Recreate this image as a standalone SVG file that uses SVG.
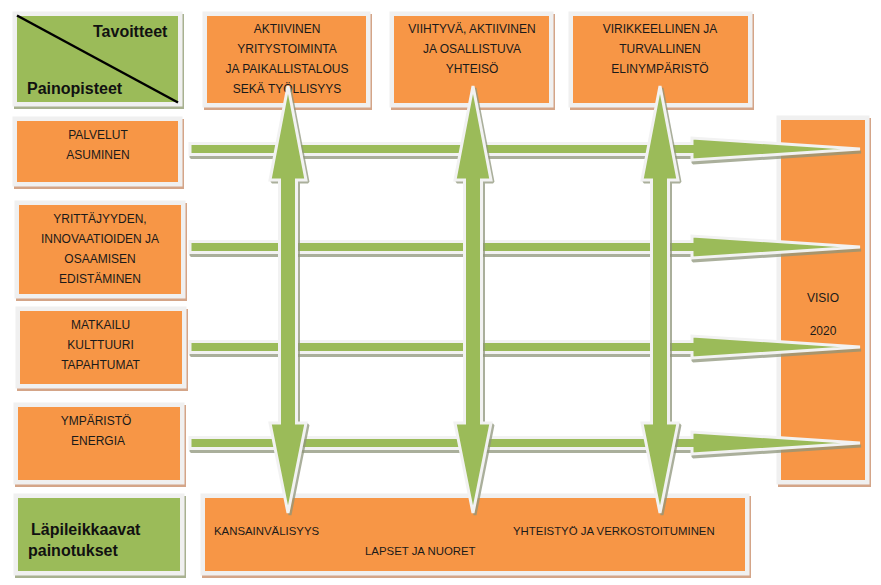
<svg xmlns="http://www.w3.org/2000/svg" width="881" height="585" viewBox="0 0 881 585">
<style>
.sho{fill:#d4a588}
.shg{fill:#a8b190}
.bd{fill:#f0f0f0}
.or{fill:#f79646}
.gr{fill:#9bbb59}
.t{font-family:"Liberation Sans",Arial,sans-serif;font-size:12px;fill:#1a1a1a;text-anchor:middle}
.s{font-family:"Liberation Sans",Arial,sans-serif;font-size:11.4px;fill:#1a1a1a}
.b{font-family:"Liberation Sans",Arial,sans-serif;font-size:16px;font-weight:bold;fill:#111}
.ash{fill:#8e957a;stroke:#8e957a;stroke-width:3;opacity:0.75;stroke-linejoin:bevel}
.arr{fill:#9bbb59;stroke:#f2f2f2;stroke-width:3;stroke-linejoin:miter;stroke-miterlimit:4}
</style>
<defs>
<path id="harr" d="M0,-5.5 L502,-5.5 L502,-11 L670,0 L502,11 L502,5.5 L0,5.5 Z"/>
<path id="varr" d="M0,0 L18,94 L8.5,94 L8.5,337 L18,337 L0,427 L-18,337 L-8.5,337 L-8.5,94 L-18,94 Z"/>
</defs>
<rect width="881" height="585" fill="#ffffff"/>

<g id="corner">
<rect class="shg" x="14" y="14" width="170" height="95"/>
<rect class="bd" x="12.5" y="11.5" width="170" height="95"/>
<rect class="gr" x="17" y="16" width="161" height="86"/>
<line x1="17" y1="15.5" x2="178" y2="102.5" stroke="#000" stroke-width="2.5"/>
<text class="b" x="93" y="37">Tavoitteet</text>
<text class="b" x="27" y="94">Painopisteet</text>
</g>

<g id="goal1">
<rect class="sho" x="204" y="14" width="168" height="96"/>
<rect class="bd" x="202.5" y="11.5" width="168" height="96"/>
<rect class="or" x="207" y="16" width="159" height="87"/>
<text class="t" x="287" y="33">AKTIIVINEN</text>
<text class="t" x="287" y="53">YRITYSTOIMINTA</text>
<text class="t" x="287" y="73">JA PAIKALLISTALOUS</text>
<text class="t" x="287" y="93">SEKÄ TYÖLLISYYS</text>
</g>

<g id="goal2">
<rect class="sho" x="391" y="14" width="164" height="96"/>
<rect class="bd" x="389.5" y="11.5" width="164" height="96"/>
<rect class="or" x="394" y="16" width="155" height="87"/>
<text class="t" x="472" y="33">VIIHTYVÄ, AKTIIVINEN</text>
<text class="t" x="472" y="53">JA OSALLISTUVA</text>
<text class="t" x="472" y="73">YHTEISÖ</text>
</g>

<g id="goal3">
<rect class="sho" x="570" y="14" width="184" height="96"/>
<rect class="bd" x="568.5" y="11.5" width="184" height="96"/>
<rect class="or" x="573" y="16" width="175" height="87"/>
<text class="t" x="660" y="33">VIRIKKEELLINEN JA</text>
<text class="t" x="660" y="53">TURVALLINEN</text>
<text class="t" x="660" y="73">ELINYMPÄRISTÖ</text>
</g>

<g id="focus1">
<rect class="sho" x="14" y="119" width="170" height="70"/>
<rect class="bd" x="12.5" y="116.5" width="170" height="70"/>
<rect class="or" x="17" y="121" width="161" height="61"/>
<text class="t" x="98" y="139">PALVELUT</text>
<text class="t" x="98" y="159">ASUMINEN</text>
</g>

<g id="focus2">
<rect class="sho" x="16" y="203" width="171" height="98"/>
<rect class="bd" x="14.5" y="200.5" width="171" height="98"/>
<rect class="or" x="19" y="205" width="162" height="89"/>
<text class="t" x="100" y="223">YRITTÄJYYDEN,</text>
<text class="t" x="100" y="243">INNOVAATIOIDEN JA</text>
<text class="t" x="100" y="263">OSAAMISEN</text>
<text class="t" x="100" y="283">EDISTÄMINEN</text>
</g>

<g id="focus3">
<rect class="sho" x="17" y="309" width="171" height="82"/>
<rect class="bd" x="15.5" y="306.5" width="171" height="82"/>
<rect class="or" x="20" y="311" width="162" height="73"/>
<text class="t" x="100.5" y="329">MATKAILU</text>
<text class="t" x="100.5" y="349">KULTTUURI</text>
<text class="t" x="100.5" y="369">TAPAHTUMAT</text>
</g>

<g id="focus4">
<rect class="sho" x="15" y="405" width="171" height="82"/>
<rect class="bd" x="13.5" y="402.5" width="171" height="82"/>
<rect class="or" x="18" y="407" width="162" height="73"/>
<text class="t" x="96" y="425">YMPÄRISTÖ</text>
<text class="t" x="98" y="445">ENERGIA</text>
</g>

<g id="crosscut-label">
<rect class="shg" x="15" y="496" width="171" height="82"/>
<rect class="bd" x="13.5" y="493.5" width="171" height="82"/>
<rect class="gr" x="18" y="498" width="162" height="73"/>
<text class="b" x="31" y="535">Läpileikkaavat</text>
<text class="b" x="28" y="556">painotukset</text>
</g>

<g id="crosscut">
<rect class="sho" x="202" y="496" width="549" height="82"/>
<rect class="bd" x="200.5" y="493.5" width="549" height="82"/>
<rect class="or" x="205" y="498" width="540" height="73"/>
<text class="s" x="214" y="535">KANSAINVÄLISYYS</text>
<text class="s" x="513" y="535">YHTEISTYÖ JA VERKOSTOITUMINEN</text>
<text class="s" x="365" y="555">LAPSET JA NUORET</text>
</g>

<g id="visio">
<rect class="sho" x="778" y="118" width="93" height="369"/>
<rect class="bd" x="776.5" y="115.5" width="93" height="369"/>
<rect class="or" x="781" y="120" width="84" height="360"/>
<text class="t" x="823" y="302">VISIO</text>
<text class="t" x="823" y="335">2020</text>
</g>

<g id="connectors">
<g id="h-arrows">
<use href="#harr" class="ash" transform="translate(191,152)"/>
<use href="#harr" class="arr" transform="translate(190,149)"/>
<use href="#harr" class="ash" transform="translate(191,250)"/>
<use href="#harr" class="arr" transform="translate(190,247)"/>
<use href="#harr" class="ash" transform="translate(191,350)"/>
<use href="#harr" class="arr" transform="translate(190,347)"/>
<use href="#harr" class="ash" transform="translate(191,446)"/>
<use href="#harr" class="arr" transform="translate(190,443)"/>
</g>
<g id="v-arrows">
<use href="#varr" class="ash" transform="translate(290,88)"/>
<use href="#varr" class="arr" transform="translate(288,86)"/>
<use href="#varr" class="ash" transform="translate(475,88)"/>
<use href="#varr" class="arr" transform="translate(473,86)"/>
<use href="#varr" class="ash" transform="translate(662,88)"/>
<use href="#varr" class="arr" transform="translate(660,86)"/>
</g>
</g>
</svg>
